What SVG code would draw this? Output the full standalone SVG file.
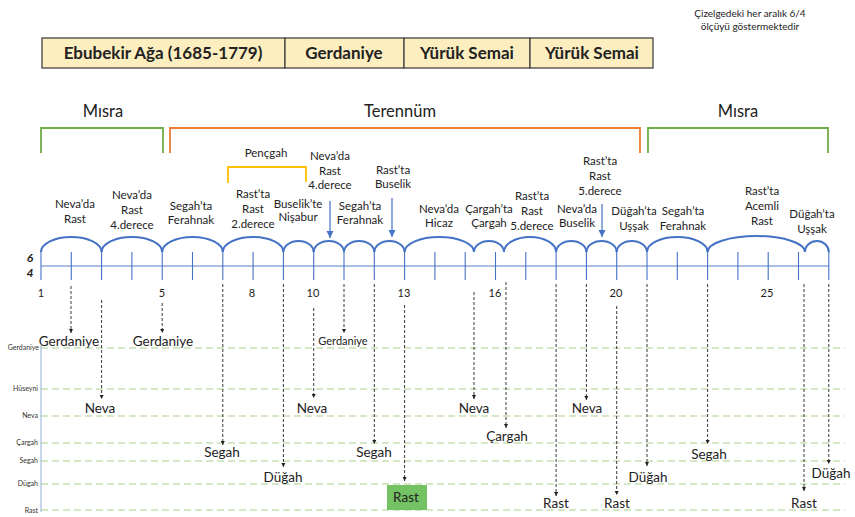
<svg xmlns="http://www.w3.org/2000/svg" width="855" height="517" viewBox="0 0 855 517">
<defs>
<style>
text{font-family:Lato,"Liberation Sans","DejaVu Sans",sans-serif;fill:#222;text-anchor:middle}
.hdr{font-size:17px;font-weight:bold}
.box{fill:#fdeebf;stroke:#444;stroke-width:1.3}
.sec{font-size:16.5px}
.note{font-size:10px}
.lab{font-size:11.5px}
.num{font-size:11px}
.big{font-size:13.5px}
.axl{font-size:7px;text-anchor:end;fill:#333}
.arc{fill:none;stroke:#4472c4;stroke-width:2}
.tick{stroke:#4472c4;stroke-width:1.1}
.base{stroke:#8faadc;stroke-width:1.3}
.grid{stroke:#a9d18e;stroke-width:1.2;stroke-dasharray:7 4}
.drop{stroke:#222;stroke-width:0.9;stroke-dasharray:3 2;marker-end:url(#ah)}
.blue{stroke:#4472c4;stroke-width:1.2;marker-end:url(#bh)}
.brg{fill:none;stroke:#70ad47;stroke-width:1.8}
.bro{fill:none;stroke:#ed7d31;stroke-width:1.8}
.bry{fill:none;stroke:#ffc000;stroke-width:1.8}
</style>
<marker id="ah" viewBox="0 0 6 6" refX="6" refY="3" markerWidth="5" markerHeight="5" orient="auto"><path d="M0,0 L6,3 L0,6 z" fill="#222"/></marker>
<marker id="bh" viewBox="0 0 6 6" refX="6" refY="3" markerWidth="6" markerHeight="6" orient="auto"><path d="M0,0 L6,3 L0,6 z" fill="#4472c4"/></marker>
</defs>
<rect width="855" height="517" fill="#fff"/>

<g id="note">
<text class="note" x="750" y="17">Çizelgedeki her aralık 6/4</text>
<text class="note" x="750" y="30">ölçüyü göstermektedir</text>
</g>

<g id="header">
<rect class="box" x="42" y="38" width="243" height="30"/>
<rect class="box" x="285" y="38" width="119" height="30"/>
<rect class="box" x="404" y="38" width="126" height="30"/>
<rect class="box" x="530" y="38" width="123" height="30"/>
<text class="hdr" x="163" y="59">Ebubekir Ağa (1685-1779)</text>
<text class="hdr" x="344" y="59">Gerdaniye</text>
<text class="hdr" x="467" y="59">Yürük Semai</text>
<text class="hdr" x="592" y="59">Yürük Semai</text>
</g>

<g id="sections">
<text class="sec" x="103" y="117">Mısra</text>
<text class="sec" x="400" y="117">Terennüm</text>
<text class="sec" x="738" y="117">Mısra</text>
<path class="brg" d="M41,153 V128 H163 V153"/>
<path class="bro" d="M170,153 V128 H640 V153"/>
<path class="brg" d="M648,153 V128 H828 V153"/>
<text class="lab" x="266" y="157">Pençgah</text>
<path class="bry" d="M228,183 V167 H306 V182"/>
</g>

<g id="meter">
<text x="30" y="262" style="font-size:12px;font-weight:bold;font-style:italic">6</text>
<text x="30" y="277" style="font-size:12px;font-weight:bold;font-style:italic">4</text>
<line class="base" x1="41" y1="266" x2="829" y2="266"/>
<g id="ticks">
<path class="tick" d="M41,252V280M71.3,252V280M101.6,252V280M131.9,252V280M162.2,252V280M192.5,252V280M222.8,252V280M253.1,252V280M283.4,252V280M313.7,252V280M344,252V280M374.3,252V280M404.6,252V280M434.9,252V280M465.2,252V280M495.5,252V280M525.8,252V280M556.1,252V280M586.4,252V280M616.7,252V280M647,252V280M677.3,252V280M707.6,252V280M737.9,252V280M768.2,252V280M798.5,252V280M828.8,252V280"/>
</g>
<g id="arcs">
<path class="arc" d="M41,252 A30.3,15 0 0 1 101.6,252"/>
<path class="arc" d="M101.6,252 A30.3,15 0 0 1 162.2,252"/>
<path class="arc" d="M162.2,252 A30.3,15 0 0 1 222.8,252"/>
<path class="arc" d="M222.8,252 A30.3,15 0 0 1 283.4,252"/>
<path class="arc" d="M283.4,252 A15.15,11 0 0 1 313.7,252"/>
<path class="arc" d="M313.7,252 A15.15,11 0 0 1 344,252"/>
<path class="arc" d="M344,252 A15.15,11 0 0 1 374.3,252"/>
<path class="arc" d="M374.3,252 A15.15,11 0 0 1 404.6,252"/>
<path class="arc" d="M404.6,252 A34.7,15 0 0 1 474,252"/>
<path class="arc" d="M474,252 A15,11 0 0 1 504,252"/>
<path class="arc" d="M504,252 A26,15 0 0 1 556.1,252"/>
<path class="arc" d="M556.1,252 A15.15,11 0 0 1 586.4,252"/>
<path class="arc" d="M586.4,252 A15.15,11 0 0 1 616.7,252"/>
<path class="arc" d="M616.7,252 A15.15,11 0 0 1 647,252"/>
<path class="arc" d="M647,252 A30.3,15 0 0 1 707.6,252"/>
<path class="arc" d="M707.6,252 A48.7,16 0 0 1 805,252"/>
<path class="arc" d="M805,252 A11.9,11 0 0 1 828.8,252"/>
</g>
<g id="numbers">
<text class="num" x="41" y="297">1</text>
<text class="num" x="162" y="297">5</text>
<text class="num" x="252" y="297">8</text>
<text class="num" x="313" y="297">10</text>
<text class="num" x="404" y="297">13</text>
<text class="num" x="495" y="297">16</text>
<text class="num" x="616" y="297">20</text>
<text class="num" x="767" y="297">25</text>
</g>
</g>

<g id="arc-labels">
<text class="lab" x="75" y="208">Neva’da</text><text class="lab" x="75" y="223">Rast</text>
<text class="lab" x="132" y="199">Neva’da</text><text class="lab" x="132" y="214">Rast</text><text class="lab" x="132" y="229">4.derece</text>
<text class="lab" x="191" y="210">Segah’ta</text><text class="lab" x="191" y="224">Ferahnak</text>
<text class="lab" x="253" y="198">Rast’ta</text><text class="lab" x="253" y="213">Rast</text><text class="lab" x="253" y="228">2.derece</text>
<text class="lab" x="298" y="208">Buselik’te</text><text class="lab" x="298" y="221">Nişabur</text>
<text class="lab" x="330" y="160">Neva’da</text><text class="lab" x="330" y="175">Rast</text><text class="lab" x="330" y="189">4.derece</text>
<text class="lab" x="360" y="210">Segah’ta</text><text class="lab" x="360" y="224">Ferahnak</text>
<text class="lab" x="393" y="174">Rast’ta</text><text class="lab" x="393" y="188">Buselik</text>
<text class="lab" x="439" y="213">Neva’da</text><text class="lab" x="439" y="227">Hicaz</text>
<text class="lab" x="489" y="213">Çargah’ta</text><text class="lab" x="489" y="227">Çargah</text>
<text class="lab" x="532" y="200">Rast’ta</text><text class="lab" x="532" y="215">Rast</text><text class="lab" x="532" y="230">5.derece</text>
<text class="lab" x="577" y="213">Neva’da</text><text class="lab" x="577" y="227">Buselik</text>
<text class="lab" x="600" y="165">Rast’ta</text><text class="lab" x="600" y="180">Rast</text><text class="lab" x="600" y="195">5.derece</text>
<text class="lab" x="634" y="215">Düğah’ta</text><text class="lab" x="634" y="230">Uşşak</text>
<text class="lab" x="683" y="215">Segah’ta</text><text class="lab" x="683" y="230">Ferahnak</text>
<text class="lab" x="762" y="195">Rast’ta</text><text class="lab" x="762" y="210">Acemli</text><text class="lab" x="762" y="225">Rast</text>
<text class="lab" x="812" y="218">Düğah’ta</text><text class="lab" x="812" y="233">Uşşak</text>
</g>

<g id="levels">
<line x1="41" y1="345" x2="41" y2="512" stroke="#b4c7e7" stroke-width="1.5"/>
<line class="grid" x1="41" y1="348" x2="845" y2="348"/>
<line class="grid" x1="41" y1="389" x2="845" y2="389"/>
<line class="grid" x1="41" y1="416" x2="845" y2="416"/>
<line class="grid" x1="41" y1="443" x2="845" y2="443"/>
<line class="grid" x1="41" y1="461" x2="845" y2="461"/>
<line class="grid" x1="41" y1="484" x2="845" y2="484"/>
<line class="grid" x1="41" y1="510" x2="845" y2="510"/>
<text class="axl" x="39" y="350">Gerdaniye</text>
<text class="axl" x="38" y="391">Hüseyni</text>
<text class="axl" x="38" y="418">Neva</text>
<text class="axl" x="38" y="445">Çargah</text>
<text class="axl" x="38" y="463">Segah</text>
<text class="axl" x="38" y="486">Dügah</text>
<text class="axl" x="38" y="513">Rast</text>
</g>

<g id="connectors">
<line class="blue" x1="330" y1="201" x2="330" y2="238"/>
<line class="blue" x1="392" y1="198" x2="392" y2="237"/>
<line class="blue" x1="602" y1="204" x2="602" y2="237"/>
<line class="drop" x1="71" y1="286" x2="71" y2="333"/>
<line class="drop" x1="101.6" y1="300" x2="101.6" y2="399"/>
<line class="drop" x1="162.2" y1="303" x2="162.2" y2="333"/>
<line class="drop" x1="222.8" y1="284" x2="222.8" y2="445"/>
<line class="drop" x1="283.4" y1="284" x2="283.4" y2="467"/>
<line class="drop" x1="313.7" y1="308" x2="313.7" y2="398"/>
<line class="drop" x1="344" y1="284" x2="344" y2="333"/>
<line class="drop" x1="374.3" y1="284" x2="374.3" y2="444"/>
<line class="drop" x1="404.6" y1="305" x2="404.6" y2="481"/>
<line class="drop" x1="474" y1="292" x2="474" y2="399"/>
<line class="drop" x1="506" y1="282" x2="506" y2="428"/>
<line class="drop" x1="556.1" y1="284" x2="556.1" y2="496"/>
<line class="drop" x1="586.4" y1="284" x2="586.4" y2="400"/>
<line class="drop" x1="616.7" y1="306" x2="616.7" y2="495"/>
<line class="drop" x1="647" y1="284" x2="647" y2="466"/>
<line class="drop" x1="707.6" y1="284" x2="707.6" y2="444"/>
<line class="drop" x1="804" y1="284" x2="804" y2="491"/>
<line class="drop" x1="828.8" y1="284" x2="828.8" y2="464"/>
</g>

<g id="notes-lower">
<text class="big" x="69" y="346">Gerdaniye</text>
<text class="big" x="100" y="413">Neva</text>
<text class="big" x="163" y="346">Gerdaniye</text>
<text class="big" x="222" y="457">Segah</text>
<text class="big" x="283" y="482">Düğah</text>
<text class="big" x="312" y="413">Neva</text>
<text x="343" y="345" style="font-size:11px">Gerdaniye</text>
<text class="big" x="374" y="457">Segah</text>
<g id="rast-box"><rect x="387" y="485" width="40" height="25" fill="#74c264"/><text class="big" x="406" y="502">Rast</text></g>
<text class="big" x="474" y="413">Neva</text>
<text class="big" x="507" y="441">Çargah</text>
<text class="big" x="556" y="508">Rast</text>
<text class="big" x="587" y="413">Neva</text>
<text class="big" x="617" y="508">Rast</text>
<text class="big" x="648" y="482">Düğah</text>
<text class="big" x="709" y="459">Segah</text>
<text class="big" x="804" y="508">Rast</text>
<text class="big" x="831" y="478">Düğah</text>
</g>
</svg>
